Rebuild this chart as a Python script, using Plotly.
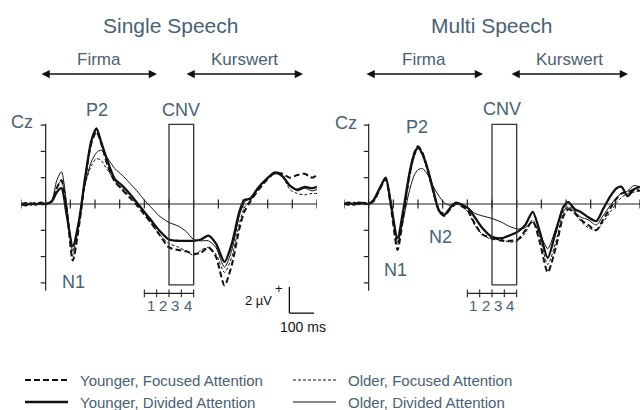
import plotly.graph_objects as go

W, H = 642, 410

# ---------------- data: grand-average ERPs at Cz (µV) ----------------
t_single = [-100, -80, -60, -40, -20, 0, 25, 45, 64, 85, 110, 135, 160, 185, 206,
            225, 250, 280, 310, 340, 370, 400, 430, 460, 500, 540, 570, 600, 630, 660,
            690, 725, 755, 785, 805, 830, 860, 895, 930, 960, 990, 1020, 1050, 1080, 1100]

single_young_focused = [0.0, 0.05, -0.05, 0.1, 0.0, 0.0, 0.2, 1.2, 1.8, -0.4,
                        -4.3, -1.7, 1.9, 4.6, 5.5, 4.6, 3.0, 1.7, 1.1, 0.5,
                        -0.1, -0.8, -1.5, -2.3, -3.3, -3.5, -3.6, -3.8, -3.7, -3.3,
                        -4.0, -6.2, -4.6, -1.9, -0.6, 0.2, 1.0, 1.8, 2.4, 2.3,
                        2.0, 2.2, 2.3, 2.0, 2.2]
single_young_divided = [0.0, -0.1, 0.05, -0.05, 0.1, 0.0, 0.2, 0.9, 1.2, -0.8,
                        -3.2, -1.3, 2.0, 4.8, 5.75, 4.7, 3.3, 1.9, 1.4, 0.8,
                        0.1, -0.6, -1.3, -2.0, -2.7, -2.8, -2.8, -2.8, -2.7, -2.4,
                        -3.0, -4.4, -3.0, -0.6, 0.3, 0.4, 1.2, 1.9, 2.4, 2.1,
                        1.4, 1.1, 1.3, 1.2, 1.3]
single_old_focused = [0.0, -0.05, 0.05, 0.0, -0.05, 0.0, 0.2, 1.3, 1.8, -0.5,
                      -4.0, -1.5, 1.5, 2.9, 3.45, 3.3, 2.6, 1.8, 1.2, 0.6,
                      0.0, -0.7, -1.5, -2.3, -3.0, -3.3, -3.6, -3.9, -3.5, -3.3,
                      -3.8, -5.2, -4.0, -1.5, -0.3, 0.3, 1.1, 1.8, 2.3, 2.1,
                      1.1, 0.8, 0.7, 0.8, 0.8]
single_old_divided = [0.0, 0.1, -0.05, 0.0, 0.1, 0.0, 0.3, 1.8, 2.45, 0.0,
                      -3.6, -1.2, 1.5, 3.2, 3.9, 4.1, 3.5, 2.7, 2.2, 1.6,
                      1.0, 0.3, -0.3, -0.9, -1.4, -1.7, -2.1, -2.7, -2.8, -2.8,
                      -3.3, -4.8, -3.5, -0.9, 0.1, 0.5, 1.2, 1.9, 2.3, 2.2,
                      1.4, 1.0, 1.2, 1.0, 1.1]

t_multi = [-100, -80, -60, -40, -20, 0, 20, 45, 69, 90, 117, 140, 165, 185, 200,
           218, 240, 260, 285, 306, 330, 354, 380, 402, 430, 460, 500, 540, 570, 605,
           635, 665, 695, 726, 760, 790, 810, 835, 860, 890, 923, 950, 980, 1005, 1025,
           1050, 1075, 1100]

multi_young_focused = [0.0, -0.05, 0.1, 0.0, 0.1, 0.0, 0.2, 1.1, 1.9, -0.2,
                       -3.5, -1.0, 2.2, 3.9, 4.4, 3.9, 2.6, 1.1, -0.5, -0.9,
                       -0.4, 0.0, -0.2, -0.5, -1.5, -2.3, -2.6, -2.8, -2.8, -2.7,
                       -2.0, -1.3, -3.0, -5.2, -3.2, -0.9, -0.4, -0.7, -1.2, -1.6,
                       -2.0, -1.2, -0.3, 0.4, 0.8, 0.9, 1.1, 1.0]
multi_young_divided = [0.0, 0.1, -0.05, 0.1, 0.05, 0.0, 0.3, 1.2, 2.0, 0.0,
                       -2.6, -0.5, 2.3, 3.8, 4.3, 3.8, 2.6, 1.2, -0.5, -0.85,
                       -0.3, 0.1, -0.1, -0.3, -1.0, -1.8, -2.5, -2.6, -2.4, -2.1,
                       -1.6, -0.6, -2.2, -4.1, -2.0, -0.2, 0.15, -0.4, -0.6, -1.0,
                       -1.3, -0.4, 0.6, 1.2, 1.3, 0.6, 1.1, 1.3]
multi_old_focused = [0.0, 0.0, 0.05, 0.05, -0.05, 0.0, 0.2, 1.2, 1.9, 0.0,
                     -3.1, -0.8, 1.9, 3.6, 4.2, 3.7, 2.4, 0.9, -0.4, -0.7,
                     -0.3, 0.05, -0.2, -0.6, -1.6, -2.3, -2.7, -2.7, -2.9, -2.8,
                     -2.2, -1.2, -2.6, -4.6, -2.8, -0.6, -0.2, -0.5, -1.3, -1.8,
                     -2.0, -1.4, -0.6, 0.1, 0.5, 0.8, 0.9, 1.0]
multi_old_divided = [0.0, 0.05, 0.0, -0.05, 0.1, 0.0, 0.3, 1.3, 1.9, 0.3,
                     -2.9, -1.2, 1.0, 2.2, 2.6, 2.7, 2.2, 1.4, 0.6, 0.1,
                     -0.1, 0.1, 0.0, -0.3, -0.7, -0.9, -1.1, -1.4, -1.7, -1.9,
                     -1.8, -1.4, -2.3, -3.4, -1.8, -0.5, -0.3, -0.6, -1.0, -1.2,
                     -1.6, -0.9, -0.1, 0.5, 0.8, 1.0, 1.4, 1.3]

conditions = ["Younger, Focused Attention", "Older, Focused Attention",
              "Younger, Divided Attention", "Older, Divided Attention"]
panel_titles = ["Single Speech", "Multi Speech"]
phase_labels = ["Firma", "Kurswert"]
cnv_window = [500, 600]          # ms
cnv_bins = [400, 450, 500, 550, 600]
cnv_bin_labels = ["1", "2", "3", "4"]
y_ticks = [-6, -4, -2, 0, 2, 4, 6]
x_ticks = list(range(-100, 1101, 100))
scale_uv, scale_ms = 2, 100

# ---------------- styles ----------------
INK = "#111111"
TXT = "#4a6172"
styles = {
    "Younger, Focused Attention": dict(width=2.0, dash="6px,3px"),
    "Older, Focused Attention": dict(width=1.0, dash="3px,2px"),
    "Younger, Divided Attention": dict(width=2.3, dash="solid"),
    "Older, Divided Attention": dict(width=1.0, dash="solid"),
}

panels = [
    dict(t=t_single, series=[single_young_focused, single_old_focused,
                             single_young_divided, single_old_divided]),
    dict(t=t_multi, series=[multi_young_focused, multi_old_focused,
                            multi_young_divided, multi_old_divided]),
]

# pixel geometry of the two panels
x_px = [(21, 317), (344, 640)]
y_top_px, y_bot_px, zero_px, px_per_uv = 95, 335, 204, 13.15
y_range = [-(y_bot_px - zero_px) / px_per_uv, (zero_px - y_top_px) / px_per_uv]
y_dom = [1 - y_bot_px / H, 1 - y_top_px / H]


def px(x):
    return x / W


def py(y):
    return 1 - y / H


fig = go.Figure()
for i, p in enumerate(panels):
    xa = "x" if i == 0 else "x2"
    ya = "y" if i == 0 else "y2"
    for name, vals in zip(conditions, p["series"]):
        st = styles[name]
        fig.add_trace(go.Scatter(
            x=p["t"], y=vals, mode="lines", name=name, showlegend=False,
            xaxis=xa, yaxis=ya, hoverinfo="skip",
            line=dict(color=INK, width=st["width"], dash=st["dash"],
                      shape="spline", smoothing=0.7)))

shapes = []
annotations = []
axis_col = "#222222"
for i in range(2):
    xr = "x" if i == 0 else "x2"
    yr = "y" if i == 0 else "y2"
    # time axis with ticks
    shapes.append(dict(type="line", xref=xr, yref=yr, x0=-100, x1=1100, y0=0, y1=0,
                       line=dict(color=axis_col, width=1.2)))
    for t in x_ticks:
        shapes.append(dict(type="line", xref=xr, yref=yr, x0=t, x1=t, y0=-0.35, y1=0.35,
                           line=dict(color=axis_col, width=1.2)))
    # amplitude axis with ticks
    shapes.append(dict(type="line", xref=xr, yref=yr, x0=0, x1=0, y0=-6.6, y1=6.1,
                       line=dict(color=axis_col, width=1.2)))
    for v in y_ticks:
        shapes.append(dict(type="line", xref=xr, yref=yr, x0=-20, x1=0, y0=v, y1=v,
                           line=dict(color=axis_col, width=1.2)))
    # CNV window
    shapes.append(dict(type="rect", xref=xr, yref=yr, x0=cnv_window[0], x1=cnv_window[1],
                       y0=-6.15, y1=6.05, line=dict(color="#333333", width=1.3)))
    # CNV bins
    shapes.append(dict(type="line", xref=xr, yref=yr, x0=cnv_bins[0], x1=cnv_bins[-1],
                       y0=-6.8, y1=-6.8, line=dict(color=axis_col, width=1.1)))
    for b in cnv_bins:
        shapes.append(dict(type="line", xref=xr, yref=yr, x0=b, x1=b, y0=-7.1, y1=-6.5,
                           line=dict(color=axis_col, width=1.1)))
    for lab, a, b in zip(cnv_bin_labels, cnv_bins[:-1], cnv_bins[1:]):
        annotations.append(dict(xref=xr, yref=yr, x=(a + b) / 2, y=-7.75, text=lab,
                                showarrow=False, font=dict(size=15, color=TXT),
                                xanchor="center", yanchor="middle"))

# scale bar (left panel)
sx, sy = 988, -8.3
shapes.append(dict(type="line", xref="x", yref="y", x0=sx, x1=sx, y0=sy, y1=sy + scale_uv,
                   line=dict(color=INK, width=1.3)))
shapes.append(dict(type="line", xref="x", yref="y", x0=sx, x1=sx + scale_ms, y0=sy, y1=sy,
                   line=dict(color=INK, width=1.3)))
annotations += [
    dict(xref="x", yref="y", x=sx - 42, y=sy + scale_uv - 0.15, text="+", showarrow=False,
         font=dict(size=13, color=INK), xanchor="center", yanchor="middle"),
    dict(xref="x", yref="y", x=sx - 62, y=sy + 0.95, text=f"{scale_uv} µV", showarrow=False,
         font=dict(size=13, color=INK), xanchor="right", yanchor="middle"),
    dict(xref="x", yref="y", x=sx + scale_ms / 2 + 5, y=sy - 1.05, text=f"{scale_ms} ms",
         showarrow=False, font=dict(size=14, color=INK),
         xanchor="center", yanchor="middle"),
]

# panel titles, phase arrows and component labels
title_cx = [171, 491]
for i, cx in enumerate(title_cx):
    annotations.append(dict(xref="paper", yref="paper", x=px(cx), y=py(25),
                            text=panel_titles[i], showarrow=False,
                            font=dict(size=21, color=TXT), xanchor="center", yanchor="middle"))

phase_geom = [[(40, 157), (185, 303)], [(365, 483), (510, 628)]]
for i in range(2):
    for lab, (a, b) in zip(phase_labels, phase_geom[i]):
        annotations.append(dict(xref="paper", yref="paper", x=px((a + b) / 2), y=py(59),
                                text=lab, showarrow=False, font=dict(size=17, color=TXT),
                                xanchor="center", yanchor="middle"))
        annotations.append(dict(xref="paper", yref="paper", x=px(b), y=py(74),
                                ax=-(b - a), ay=0, text="", showarrow=True,
                                arrowside="end+start", arrowhead=2, arrowsize=1.1,
                                arrowwidth=1.5, arrowcolor=INK))

comp_labels = [
    ("Cz", 22.5, 122), ("P2", 97, 110), ("CNV", 181, 110), ("N1", 73, 282),
    ("Cz", 346, 123), ("P2", 417, 127), ("CNV", 502, 109), ("N2", 440, 237), ("N1", 395, 270),
]
for txt, cx, cy in comp_labels:
    annotations.append(dict(xref="paper", yref="paper", x=px(cx), y=py(cy), text=txt,
                            showarrow=False, font=dict(size=18, color=TXT),
                            xanchor="center", yanchor="middle"))

# legend drawn as two columns of line samples and labels
legend_pos = [(25, 380), (293, 380), (25, 402), (293, 402)]
for name, (lx, ly) in zip(conditions, legend_pos):
    st = styles[name]
    shapes.append(dict(type="line", xref="paper", yref="paper", x0=px(lx), x1=px(lx + 43),
                       y0=py(ly), y1=py(ly),
                       line=dict(color=INK, width=st["width"], dash=st["dash"])))
    annotations.append(dict(xref="paper", yref="paper", x=px(lx + 53), y=py(ly), text=name,
                            showarrow=False, xanchor="left", yanchor="middle",
                            font=dict(size=15, color=TXT)))

hidden = dict(visible=False, showgrid=False, zeroline=False, fixedrange=True)
fig.update_layout(
    width=W, height=H, margin=dict(l=0, r=0, t=0, b=0),
    paper_bgcolor="white", plot_bgcolor="rgba(0,0,0,0)",
    font=dict(family="Liberation Sans, Arial, sans-serif", color=TXT),
    showlegend=False,
    xaxis=dict(domain=[px(x_px[0][0]), px(x_px[0][1])], range=[-100, 1100], anchor="y", **hidden),
    yaxis=dict(domain=y_dom, range=y_range, anchor="x", **hidden),
    xaxis2=dict(domain=[px(x_px[1][0]), px(x_px[1][1])], range=[-100, 1100], anchor="y2", **hidden),
    yaxis2=dict(domain=y_dom, range=y_range, anchor="x2", **hidden),
    shapes=shapes, annotations=annotations,
)

fig.write_html("out.html")
